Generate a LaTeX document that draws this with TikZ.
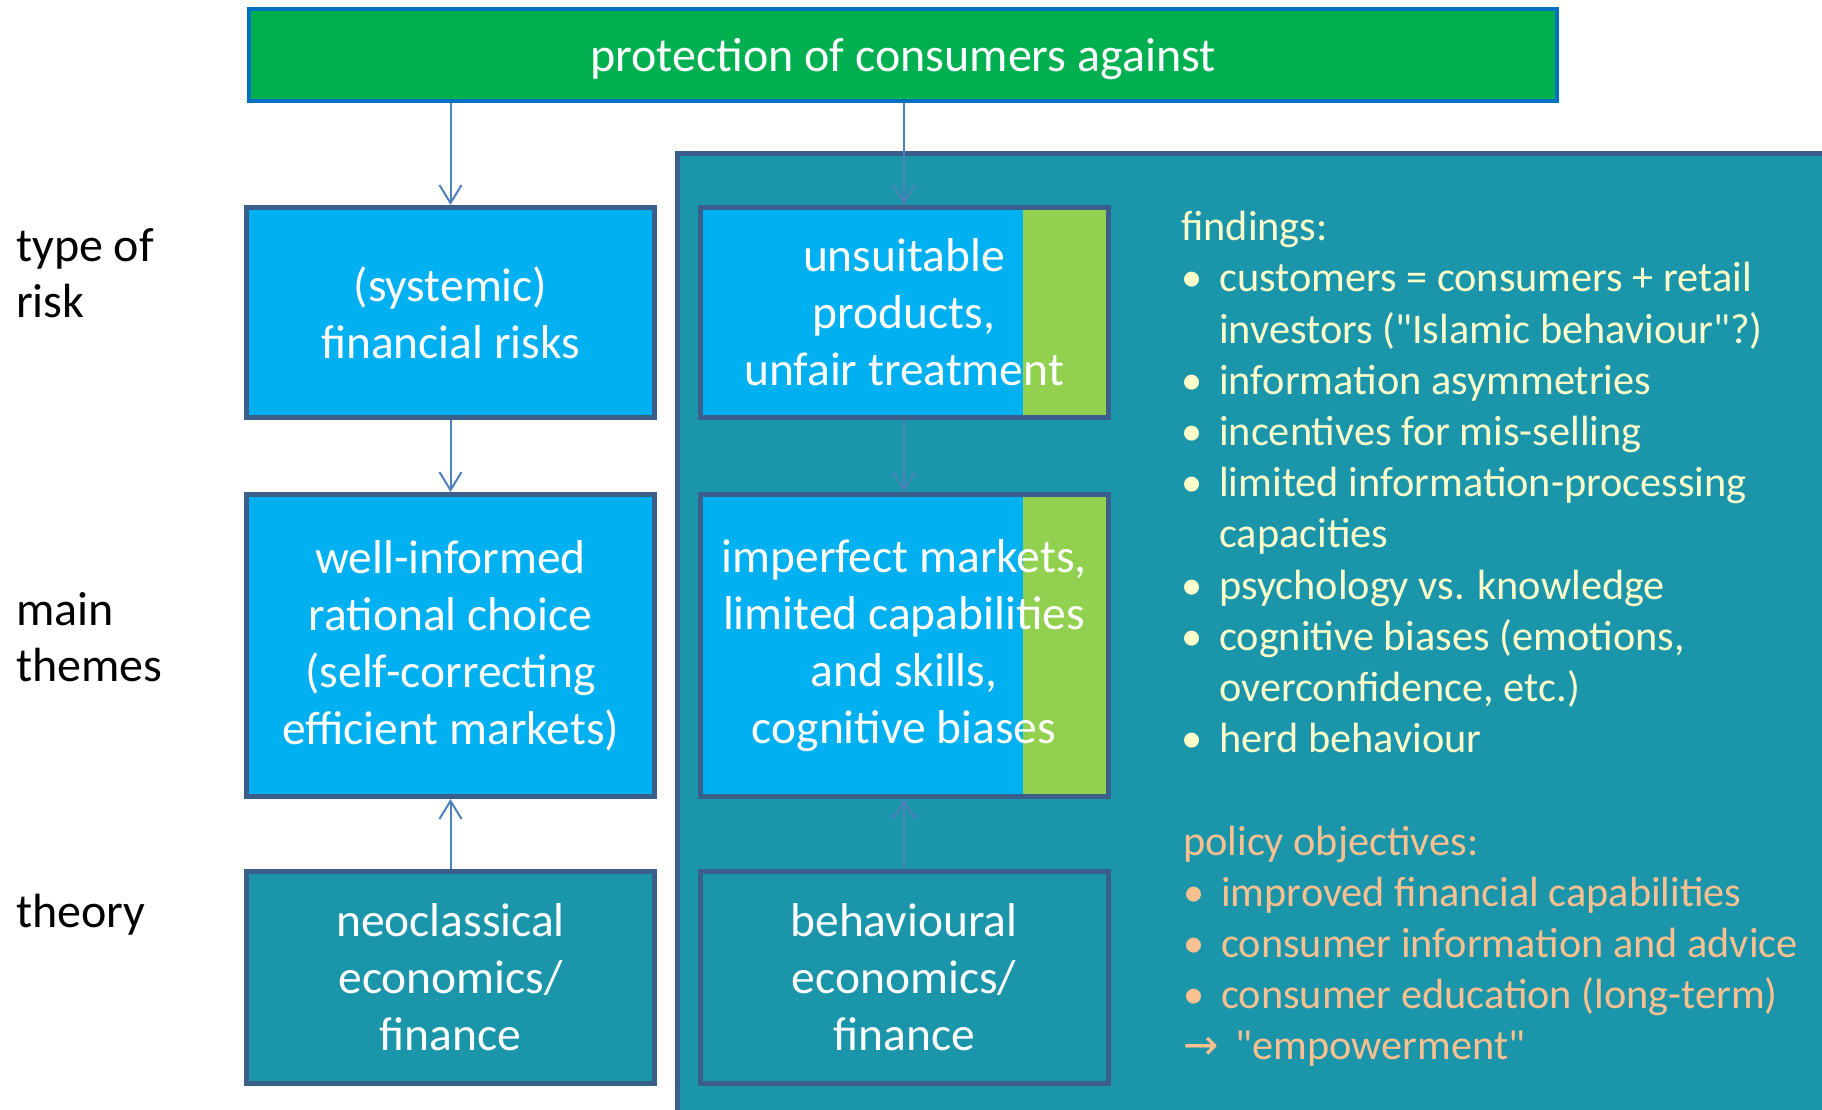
\documentclass[tikz,border=0pt]{standalone}
\usepackage{fontspec}
\setmainfont{Carlito}[Ligatures=TeXOff]
\newfontfamily\arrowfont{DejaVu Sans}
\usetikzlibrary{arrows.meta}
\definecolor{cteal}{RGB}{27,149,170}
\definecolor{cedge}{RGB}{58,95,139}
\definecolor{cblue}{RGB}{0,176,240}
\definecolor{clime}{RGB}{146,208,80}
\definecolor{cgreen}{RGB}{0,176,80}
\definecolor{cgedge}{RGB}{0,112,192}
\definecolor{carrow}{RGB}{79,129,189}
\definecolor{cfind}{RGB}{255,255,204}
\definecolor{cpol}{RGB}{250,192,144}
\begin{document}
\begin{tikzpicture}[x=1pt,y=-1pt,
  box/.style={draw=cedge, line width=5pt, minimum width=408pt, inner sep=0pt,
    text=white, align=center, font=\fontsize{47.5}{57}\selectfont},
  bluebox/.style={box, fill=cblue},
  tealbox/.style={box, fill=cteal},
  stripbox/.style={bluebox, path picture={\fill[clime]
    ([xshift=-85.5pt]path picture bounding box.north east) rectangle
    (path picture bounding box.south east);}},
  conn/.style={draw=carrow, line width=2pt, -{Straight Barb[length=18pt,width=22pt]}},
  lab/.style={anchor=base west, inner sep=0pt, text=black, font=\fontsize{48}{56}\selectfont},
  listtext/.style={anchor=base west, inner sep=0pt},
]
\useasboundingbox (0,0) rectangle (1822,1110);
% background panel
\begin{scope}
  \clip (0,0) rectangle (1822,1110);
  \filldraw[fill=cteal, draw=cedge, line width=5pt] (677.5,154) rectangle (1840,1130);
\end{scope}
% top box
\node[draw=cgedge, fill=cgreen, line width=4pt, minimum width=1308pt, minimum height=92pt,
  inner sep=0pt, text=white, text height=36pt, text depth=3pt,
  font=\fontsize{48}{57}\selectfont] (top) at (903,55) {protection of consumers against};
% left column
\node[bluebox, minimum height=210pt] (b1) at (450.5,312.5) {(systemic)\\financial risks};
\node[bluebox, minimum height=302pt] (b2) at (450.5,645.5) {well-informed\\rational choice\\(self-correcting\\efficient markets)};
\node[tealbox, minimum height=212pt] (b3) at (450.5,977.5) {neoclassical\\economics/\\finance};
% middle column
\node[stripbox, minimum height=210pt] (b4) at (904,312.5) {unsuitable\\products,\\unfair treatment};
\node[stripbox, minimum height=302pt] (b5) at (904,645.5) {imperfect markets,\\limited capabilities\\and skills,\\cognitive biases};
\node[tealbox, minimum height=212pt] (b6) at (904,977.5) {behavioural\\economics/\\finance};
% connectors
\draw[conn] (top.south -| b1.north) -- (b1.north);
\draw[conn] (top.south -| b4.north) -- (b4.north);
\draw[conn] (b1.south) -- (b2.north);
\draw[conn] (b4.south) -- (b5.north);
\draw[conn] (b3.north) -- (b2.south);
\draw[conn] (b6.north) -- (b5.south);
% row labels
\node[lab] (l1) at (16,261.3) {\begin{tabular}[t]{@{}l@{}}type of\\risk\end{tabular}};
\node[lab] (l2) at (16,625) {\begin{tabular}[t]{@{}l@{}}main\\themes\end{tabular}};
\node[lab] (l3) at (16,927) {theory};
% findings
\node[listtext, text=cfind, font=\fontsize{42.3}{51.2}\selectfont] (find) at (1181,240.7) {%
\begin{tabular}[t]{@{}l@{}l@{}}
\multicolumn{2}{@{}l@{}}{findings:}\\
\makebox[38pt][l]{•} & customers = consumers + retail\\
 & investors ("Islamic behaviour"?)\\
\makebox[38pt][l]{•} & information asymmetries\\
\makebox[38pt][l]{•} & incentives for mis-selling\\
\makebox[38pt][l]{•} & limited information-processing\\
 & capacities\\
\makebox[38pt][l]{•} & psychology vs. knowledge\\
\makebox[38pt][l]{•} & cognitive biases (emotions,\\
 & overconfidence, etc.)\\
\makebox[38pt][l]{•} & herd behaviour
\end{tabular}};
% policy objectives
\node[listtext, text=cpol, font=\fontsize{42.3}{51.2}\selectfont] (pol) at (1183,855) {%
\begin{tabular}[t]{@{}l@{}l@{}}
\multicolumn{2}{@{}l@{}}{policy objectives:}\\
\makebox[38pt][l]{•} & improved financial capabilities\\
\makebox[38pt][l]{•} & consumer information and advice\\
\makebox[38pt][l]{•} & consumer education (long-term)\\
\multicolumn{2}{@{}l@{}}{{\arrowfont →}\hspace{17pt}"empowerment"}
\end{tabular}};
\end{tikzpicture}
\end{document}
